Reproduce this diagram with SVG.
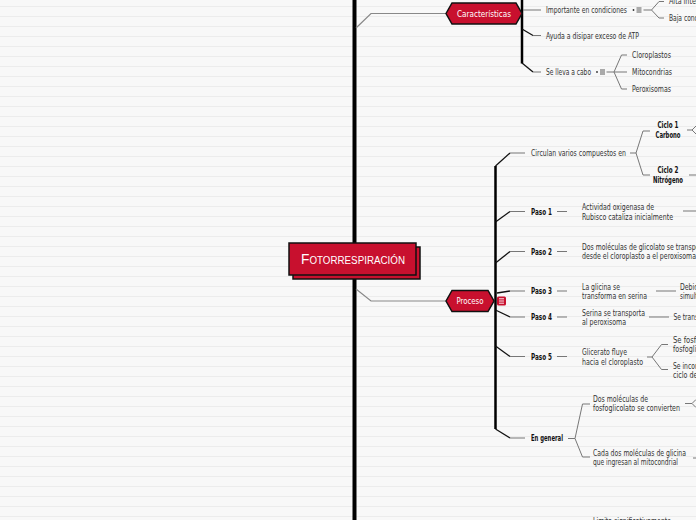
<svg xmlns="http://www.w3.org/2000/svg" width="696" height="520" viewBox="0 0 696 520">
<defs>
<pattern id="ruled" width="696" height="10" patternUnits="userSpaceOnUse">
<rect width="696" height="10" fill="#f8f8f8"/>
<line x1="0" y1="6.5" x2="696" y2="6.5" stroke="#ececec" stroke-width="1"/>
</pattern>
</defs>
<style>
.t{font-family:"Liberation Sans Narrow","DejaVu Sans Condensed","Liberation Sans",sans-serif;font-size:8px;fill:#333}
.b{font-weight:bold;fill:#111}
.m{text-anchor:middle}
.w{fill:#fff;font-size:9px;text-anchor:middle}
.c{stroke:#777;stroke-width:1;fill:none}
.d{stroke:#111;stroke-width:1.3;fill:none}
.br{stroke:#888;stroke-width:1.2;fill:none}
.hex{fill:#c8102e;stroke:#111;stroke-width:1.5}
.ic{stroke:#333;stroke-width:0.8}
</style>
<rect width="696" height="520" fill="url(#ruled)"/>

<g id="connectors">
<line x1="354.5" y1="0" x2="354.5" y2="520" stroke="#000" stroke-width="4"/>
<path class="br" d="M356,28 L371,13.5 H446"/>
<path class="br" d="M356,289 L371,301 H446"/>
<line x1="522" y1="0" x2="522" y2="63.5" stroke="#000" stroke-width="2.5"/>
<line x1="495.5" y1="166" x2="495.5" y2="429" stroke="#000" stroke-width="2.5"/>
<path class="c" d="M523,10 H541"/>
<path class="d" d="M522,29 L533,35.5"/><path class="c" d="M533,35.5 H541"/>
<path class="d" d="M522,63 L533,72"/><path class="c" d="M533,72 H541"/>
<path class="c" d="M643.5,10 H651.5 L659,1.5 H664 M651.5,10 L659,18 H664"/>
<path class="c" d="M606.5,72 H614 L621.5,55 H627 M614,72 H627 M614,72 L621.5,89 H627"/>
<path class="d" d="M495.5,166 L510,153"/><path class="c" d="M510,153 H525"/>
<path class="d" d="M495.5,222 L510,211.5"/><path class="c" d="M510,211.5 H525"/>
<path class="d" d="M495.5,263 L510,251.5"/><path class="c" d="M510,251.5 H525"/>
<path class="d" d="M497,293 L510,291"/><path class="c" d="M510,291 H525"/>
<path class="d" d="M495.5,310 L510,317"/><path class="c" d="M510,317 H525"/>
<path class="d" d="M495.5,346 L510,356.5"/><path class="c" d="M510,356.5 H525"/>
<path class="d" d="M495.5,429 L510,438"/><path class="c" d="M510,438 H525"/>
<path class="c" d="M557,211.5 H567 M557,251.5 H567 M557,291 H567 M557,317 H567 M557,356.5 H567"/>
<path class="c" d="M630,153 H636 L643,131 H650 M636,153 L643,175 H650"/>
<path class="c" d="M687,130 H692 L696,126 M692,130 L696,134 M689,175 H696"/>
<path class="c" d="M683,211 H696"/>
<path class="c" d="M656,291 H676"/>
<path class="c" d="M649,317 H669"/>
<path class="c" d="M647,357 H652 L661.5,344.5 H668 M652,357 L661.5,369.5 H668"/>
<path class="c" d="M568,438.5 H575 L582.5,404 H590 M575,438.5 L582.5,457 H590"/>
<path class="c" d="M685,403.5 H692 L696,399.5 M692,403.5 L696,407.5 M693,458 H696"/>
</g>

<g id="central">
<rect x="293" y="247" width="127" height="32" fill="#c8102e" stroke="#111" stroke-width="1.5"/>
<rect x="289" y="243" width="127" height="32" fill="#c8102e" stroke="#111" stroke-width="1.5"/>
<text x="301" y="264" textLength="104" lengthAdjust="spacingAndGlyphs" style="font-family:'Liberation Sans',sans-serif;font-size:14px;font-variant:small-caps;fill:#fff">Fotorrespiración</text>
</g>

<g id="caracteristicas">
<polygon class="hex" points="446,13.5 452,3 516,3 522,13.5 516,24 452,24"/>
<text class="t w" x="484" y="16.5" textLength="54" lengthAdjust="spacingAndGlyphs">Características</text>
</g>

<g id="proceso">
<polygon class="hex" points="446,301 452,290.5 488,290.5 494,301 488,311.5 452,311.5"/>
<text class="t w" x="470" y="304" textLength="27" lengthAdjust="spacingAndGlyphs">Proceso</text>
<rect x="497" y="296.5" width="9" height="9" rx="1.5" fill="#c8102e"/>
<path d="M499,298.8 H504 M499,301 H504 M499,303.2 H504" stroke="#fff" stroke-width="0.9"/>
</g>

<g id="importante">
<text class="t" x="546" y="13" textLength="81" lengthAdjust="spacingAndGlyphs">Importante en condiciones</text>
<circle cx="633.5" cy="10" r="0.9" fill="#333"/>
<path class="ic" d="M636.5,8 H641.5 M636.5,10 H641.5 M636.5,12 H641.5"/>
</g>
<g id="alta"><text class="t" x="669" y="4" textLength="48" lengthAdjust="spacingAndGlyphs">Alta intensidad</text></g>
<g id="baja"><text class="t" x="669" y="20.5" textLength="57" lengthAdjust="spacingAndGlyphs">Baja concentración</text></g>
<g id="ayuda"><text class="t" x="546" y="38.5" textLength="93" lengthAdjust="spacingAndGlyphs">Ayuda a disipar exceso de ATP</text></g>
<g id="sellevaacabo">
<text class="t" x="546" y="75" textLength="45" lengthAdjust="spacingAndGlyphs">Se lleva a cabo</text>
<circle cx="597" cy="72" r="0.9" fill="#333"/>
<path class="ic" d="M600,70 H605 M600,72 H605 M600,74 H605"/>
</g>
<g id="cloroplastos"><text class="t" x="632" y="58" textLength="39" lengthAdjust="spacingAndGlyphs">Cloroplastos</text></g>
<g id="mitocondrias"><text class="t" x="632" y="75" textLength="40" lengthAdjust="spacingAndGlyphs">Mitocondrias</text></g>
<g id="peroxisomas"><text class="t" x="632" y="92" textLength="39" lengthAdjust="spacingAndGlyphs">Peroxisomas</text></g>

<g id="circulan"><text class="t" x="531" y="156" textLength="95" lengthAdjust="spacingAndGlyphs">Circulan varios compuestos en</text></g>
<g id="ciclo1"><text class="t b m" x="668" y="128" textLength="21" lengthAdjust="spacingAndGlyphs">Ciclo 1</text><text class="t b m" x="668" y="138" textLength="25" lengthAdjust="spacingAndGlyphs">Carbono</text></g>
<g id="ciclo2"><text class="t b m" x="668" y="173" textLength="21" lengthAdjust="spacingAndGlyphs">Ciclo 2</text><text class="t b m" x="668" y="183" textLength="30" lengthAdjust="spacingAndGlyphs">Nitrógeno</text></g>

<g id="paso1"><text class="t b" x="531" y="214.5" textLength="21" lengthAdjust="spacingAndGlyphs">Paso 1</text></g>
<g id="paso1d"><text class="t" x="582" y="210" textLength="72" lengthAdjust="spacingAndGlyphs">Actividad oxigenasa de</text><text class="t" x="582" y="220" textLength="91" lengthAdjust="spacingAndGlyphs">Rubisco cataliza inicialmente</text></g>
<g id="paso2"><text class="t b" x="531" y="254.5" textLength="21" lengthAdjust="spacingAndGlyphs">Paso 2</text></g>
<g id="paso2d"><text class="t" x="582" y="249.5" textLength="130" lengthAdjust="spacingAndGlyphs">Dos moléculas de glicolato se transportan</text><text class="t" x="582" y="259" textLength="114" lengthAdjust="spacingAndGlyphs">desde el cloroplasto a el peroxisoma</text></g>
<g id="paso3"><text class="t b" x="531" y="294" textLength="21" lengthAdjust="spacingAndGlyphs">Paso 3</text></g>
<g id="paso3d"><text class="t" x="582" y="290" textLength="38" lengthAdjust="spacingAndGlyphs">La glicina se</text><text class="t" x="582" y="299" textLength="65" lengthAdjust="spacingAndGlyphs">transforma en serina</text></g>
<g id="paso3e"><text class="t" x="680" y="289.5" textLength="22" lengthAdjust="spacingAndGlyphs">Debido</text><text class="t" x="680" y="299" textLength="50" lengthAdjust="spacingAndGlyphs">simultáneamente</text></g>
<g id="paso4"><text class="t b" x="531" y="320" textLength="21" lengthAdjust="spacingAndGlyphs">Paso 4</text></g>
<g id="paso4d"><text class="t" x="582" y="316" textLength="63" lengthAdjust="spacingAndGlyphs">Serina se transporta</text><text class="t" x="582" y="325" textLength="44" lengthAdjust="spacingAndGlyphs">al peroxisoma</text></g>
<g id="paso4e"><text class="t" x="673.5" y="320" textLength="42" lengthAdjust="spacingAndGlyphs">Se transforma</text></g>
<g id="paso5"><text class="t b" x="531" y="359.5" textLength="21" lengthAdjust="spacingAndGlyphs">Paso 5</text></g>
<g id="paso5d"><text class="t" x="582" y="355" textLength="45" lengthAdjust="spacingAndGlyphs">Glicerato fluye</text><text class="t" x="582" y="364.5" textLength="61" lengthAdjust="spacingAndGlyphs">hacia el cloroplasto</text></g>
<g id="paso5e"><text class="t" x="673" y="343" textLength="38" lengthAdjust="spacingAndGlyphs">Se fosforila</text><text class="t" x="673" y="352" textLength="44" lengthAdjust="spacingAndGlyphs">fosfoglicerato</text></g>
<g id="paso5f"><text class="t" x="673" y="369" textLength="38" lengthAdjust="spacingAndGlyphs">Se incorpora</text><text class="t" x="673" y="378" textLength="46" lengthAdjust="spacingAndGlyphs">ciclo de Calvin</text></g>

<g id="engeneral"><text class="t b" x="531" y="441" textLength="32" lengthAdjust="spacingAndGlyphs">En general</text></g>
<g id="dosmol"><text class="t" x="593" y="402" textLength="55" lengthAdjust="spacingAndGlyphs">Dos moléculas de</text><text class="t" x="593" y="411" textLength="87" lengthAdjust="spacingAndGlyphs">fosfoglicolato se convierten</text></g>
<g id="cadados"><text class="t" x="593" y="456" textLength="93" lengthAdjust="spacingAndGlyphs">Cada dos moléculas de glicina</text><text class="t" x="593" y="465" textLength="85" lengthAdjust="spacingAndGlyphs">que ingresan al mitocondrial</text></g>
<g id="limita"><text class="t" x="593" y="523.5" textLength="78" lengthAdjust="spacingAndGlyphs">Limita significativamente</text></g>
</svg>
